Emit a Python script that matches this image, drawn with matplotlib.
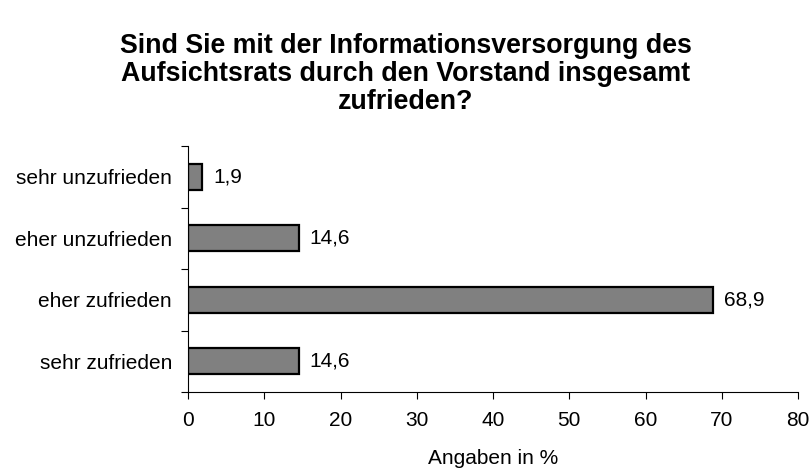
import matplotlib
matplotlib.use("Agg")
import matplotlib.pyplot as plt

categories = ["sehr zufrieden", "eher zufrieden", "eher unzufrieden", "sehr unzufrieden"]
values = [14.6, 68.9, 14.6, 1.9]
value_labels = ["14,6", "68,9", "14,6", "1,9"]
title = "Sind Sie mit der Informationsversorgung des\nAufsichtsrats durch den Vorstand insgesamt\nzufrieden?"
xlabel = "Angaben in %"

plt.rcParams['font.family'] = ['Liberation Sans', 'DejaVu Sans']

fig = plt.figure(figsize=(8.12, 4.72), dpi=100)
ax = fig.add_axes([188/812, 1-392/472, (798-188)/812, (392-146)/472])

y = list(range(len(categories)))
ax.barh(y, values, height=0.42, color="#808080", edgecolor="black", linewidth=1.6)
for yi, v, lab in zip(y, values, value_labels):
    ax.annotate(lab, (v, yi), xytext=(7.5, 0), textcoords="offset points",
                va="center", ha="left", fontsize=15)

ax.set_xlim(0, 80)
ax.set_ylim(-0.5, 3.5)
ax.set_xticks(range(0, 81, 10))
ax.tick_params(axis='x', direction='out', length=5, labelsize=15, pad=9)
ax.set_yticks([-0.5, 0.5, 1.5, 2.5, 3.5])
ax.set_yticklabels([])
ax.set_yticks(y, minor=True)
ax.set_yticklabels(categories, minor=True)
ax.tick_params(axis='y', which='major', direction='out', length=5)
ax.tick_params(axis='y', which='minor', length=0, labelsize=15, pad=11.5)
for s in ["top", "right"]:
    ax.spines[s].set_visible(False)
ax.spines["left"].set_bounds(-0.5, 3.5)
ax.set_xlabel(xlabel, fontsize=15, labelpad=13)
fig.text(0.5, 1-74/472, title, ha="center", va="center", fontsize=19.3,
         fontweight="bold", linespacing=1.08)
fig.savefig("out.png", dpi=100)
